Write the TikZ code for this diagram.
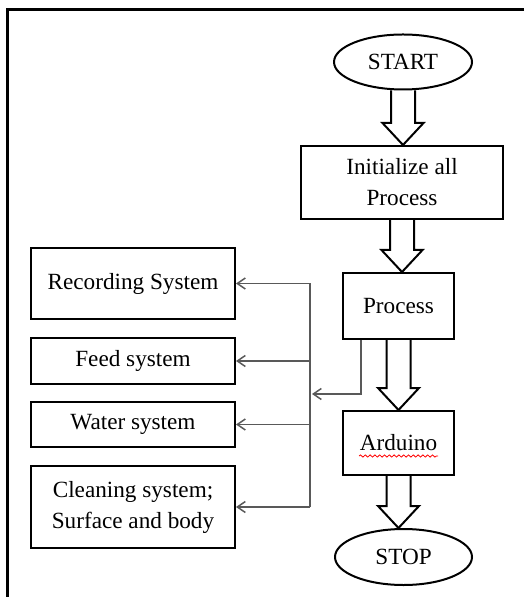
\documentclass[tikz,border=0pt]{standalone}
\usepackage{fontspec}
\setmainfont{Liberation Serif}
\usetikzlibrary{arrows.meta,shapes.geometric,calc,decorations.pathmorphing}
\newcommand{\fatarrow}[2]{%
  \draw[fat] let \p1=(#1.south), \p2=(#2.north) in
    (\x1-6pt,\y1) -- (\x1-6pt,\y2+11pt) -- (\x1-10.25pt,\y2+11pt) -- (\x1,\y2)
    -- (\x1+10.25pt,\y2+11pt) -- (\x1+6pt,\y2+11pt) -- (\x1+6pt,\y1);}

\begin{document}
\begin{tikzpicture}[x=0.5pt, y=-0.5pt,
  font=\fontsize{11.6}{15.5}\selectfont,
  term/.style={draw, ellipse, line width=1pt, inner sep=0pt},
  box/.style={draw, line width=1pt, inner sep=0pt, align=center, anchor=center},
  side/.style={box, minimum width=102pt},
  fat/.style={line width=1pt, line join=miter},
  br/.style={draw=black!65, line width=0.75pt},
  tap/.style={br, -{Straight Barb[length=4pt, width=5.5pt]}},
  squig/.style={red, line width=0.4pt, decorate,
                decoration={snake, amplitude=0.55pt, segment length=2.4pt}}]
\useasboundingbox (0,0) rectangle (524,597);
\draw[line width=1.5pt] (524,10) -- (7,10) -- (7,597);
\node[term, minimum width=69pt, minimum height=27.5pt] (start) at (403,62) {START};
\node[box, minimum width=101pt, minimum height=36.5pt] (init) at (402,182.5) {Initialize all\\Process};
\node[box, minimum width=55.5pt, minimum height=33pt] (proc) at (398.5,306) {Process};
\node[box, minimum width=55.5pt, minimum height=32pt] (ard) at (398.5,443) {Arduino};
\node[term, minimum width=68.5pt, minimum height=28pt] (stop) at (403.5,557) {STOP};
\fatarrow{start}{init}
\fatarrow{init}{proc}
\fatarrow{proc}{ard}
\fatarrow{ard}{stop}
\draw[squig] ([shift={(-19.75pt,-6.5pt)}]ard.center) -- ([shift={(19.75pt,-6.5pt)}]ard.center);
\node[side, minimum height=35.5pt] (rec)   at (133,283.5) {Recording System};
\node[side, minimum height=23pt]   (feed)  at (133,361)   {Feed system};
\node[side, minimum height=22.5pt] (water) at (133,424.5) {Water system};
\node[side, minimum height=41pt]   (clean) at (133,507)   {Cleaning system;\\Surface and body};
\coordinate (bt) at (310,283.5);
\coordinate (bb) at (310,507);
\coordinate (jn) at (312,394);
\draw[br] (bt) -- (bb);
\draw[tap] (bt) -- (rec.east);
\draw[tap] (bt |- feed.east) -- (feed.east);
\draw[tap] (bt |- water.east) -- (water.east);
\draw[tap] (bb) -- (clean.east);
\draw[tap] ([xshift=-18.75pt]proc.south) |- (jn);
\end{tikzpicture}
\end{document}
